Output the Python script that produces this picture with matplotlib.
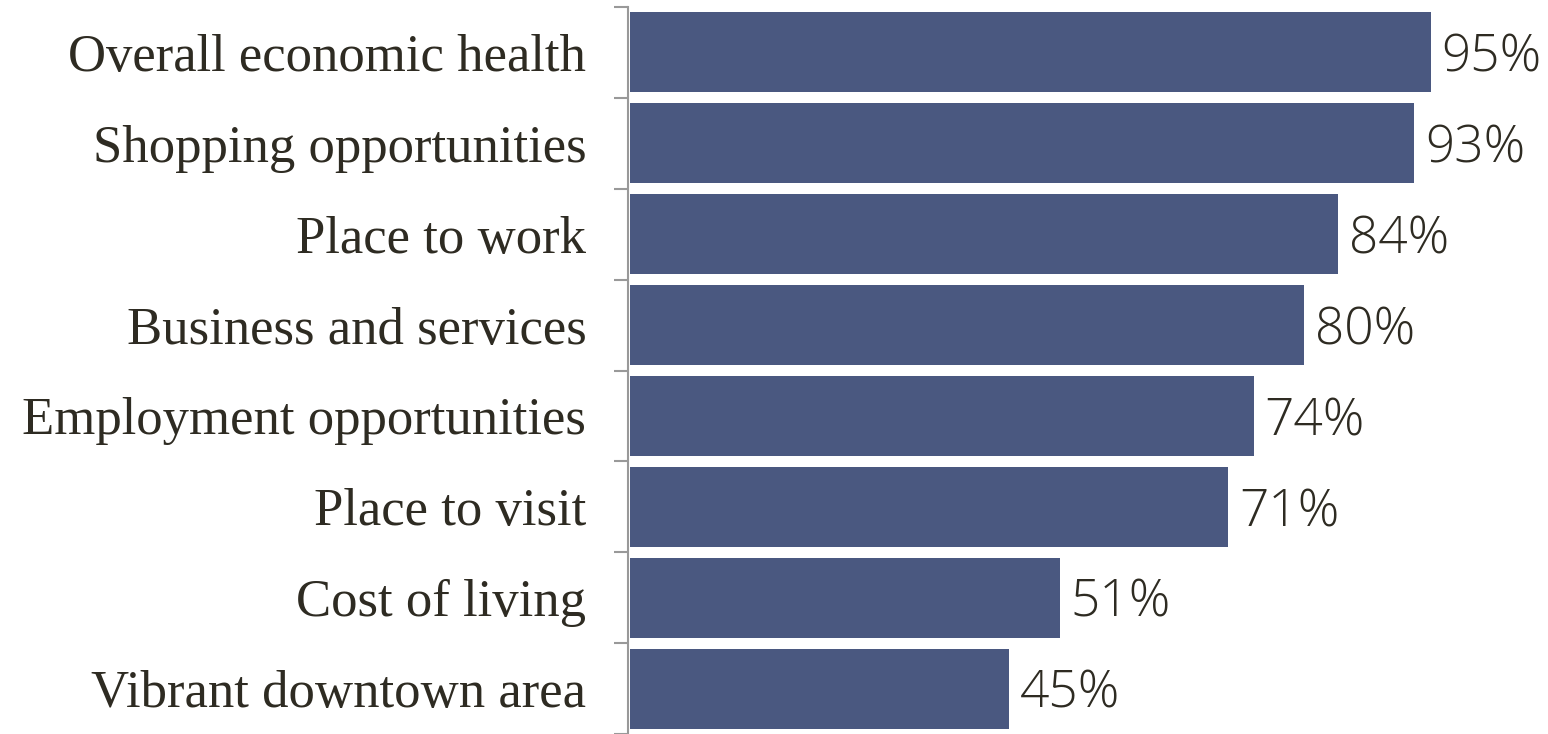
import matplotlib
matplotlib.use("Agg")
import matplotlib.pyplot as plt

categories = ["Overall economic health", "Shopping opportunities", "Place to work",
              "Business and services", "Employment opportunities", "Place to visit",
              "Cost of living", "Vibrant downtown area"]
values = [95, 93, 84, 80, 74, 71, 51, 45]
value_labels = ["95%", "93%", "84%", "80%", "74%", "71%", "51%", "45%"]

W, H = 1548, 734
fig = plt.figure(figsize=(W / 100, H / 100), dpi=100)
ax_left = 628 / W
ax_right = 1548 / W
ax_top = 1 - 7 / H
ax = fig.add_axes([ax_left, 0, ax_right - ax_left, ax_top])

n = len(categories)
ypos = list(range(n))
bar_color = "#4a5880"
text_color = "#2e2b22"
ax.barh(ypos, values, height=0.88, color=bar_color, left=0.2)
ax.set_ylim(n - 0.5, -0.5)
px_per_unit = (1429 - 628) / 95
ax.set_xlim(0, (1548 - 628) / px_per_unit)

for y, v, lab in zip(ypos, values, value_labels):
    ax.text(v + 1.5, y + 0.06, lab, va="center", ha="left", fontsize=37,
            family="Open Sans", fontweight=300, color=text_color)

for s in ["top", "right", "bottom"]:
    ax.spines[s].set_visible(False)
ax.spines["left"].set_color("#999999")
ax.spines["left"].set_linewidth(1.5)
ax.set_xticks([])
ax.set_yticks([i - 0.5 for i in range(n + 1)], minor=False)
ax.set_yticklabels([])
ax.tick_params(axis="y", which="major", length=10, width=1.5, color="#999999")
ax.set_yticks(ypos, minor=True)
ax.set_yticklabels(categories, minor=True, fontsize=38, family="Liberation Serif",
                   color=text_color)
ax.tick_params(axis="y", which="minor", length=0, pad=30)

fig.savefig("out.png", dpi=100)
